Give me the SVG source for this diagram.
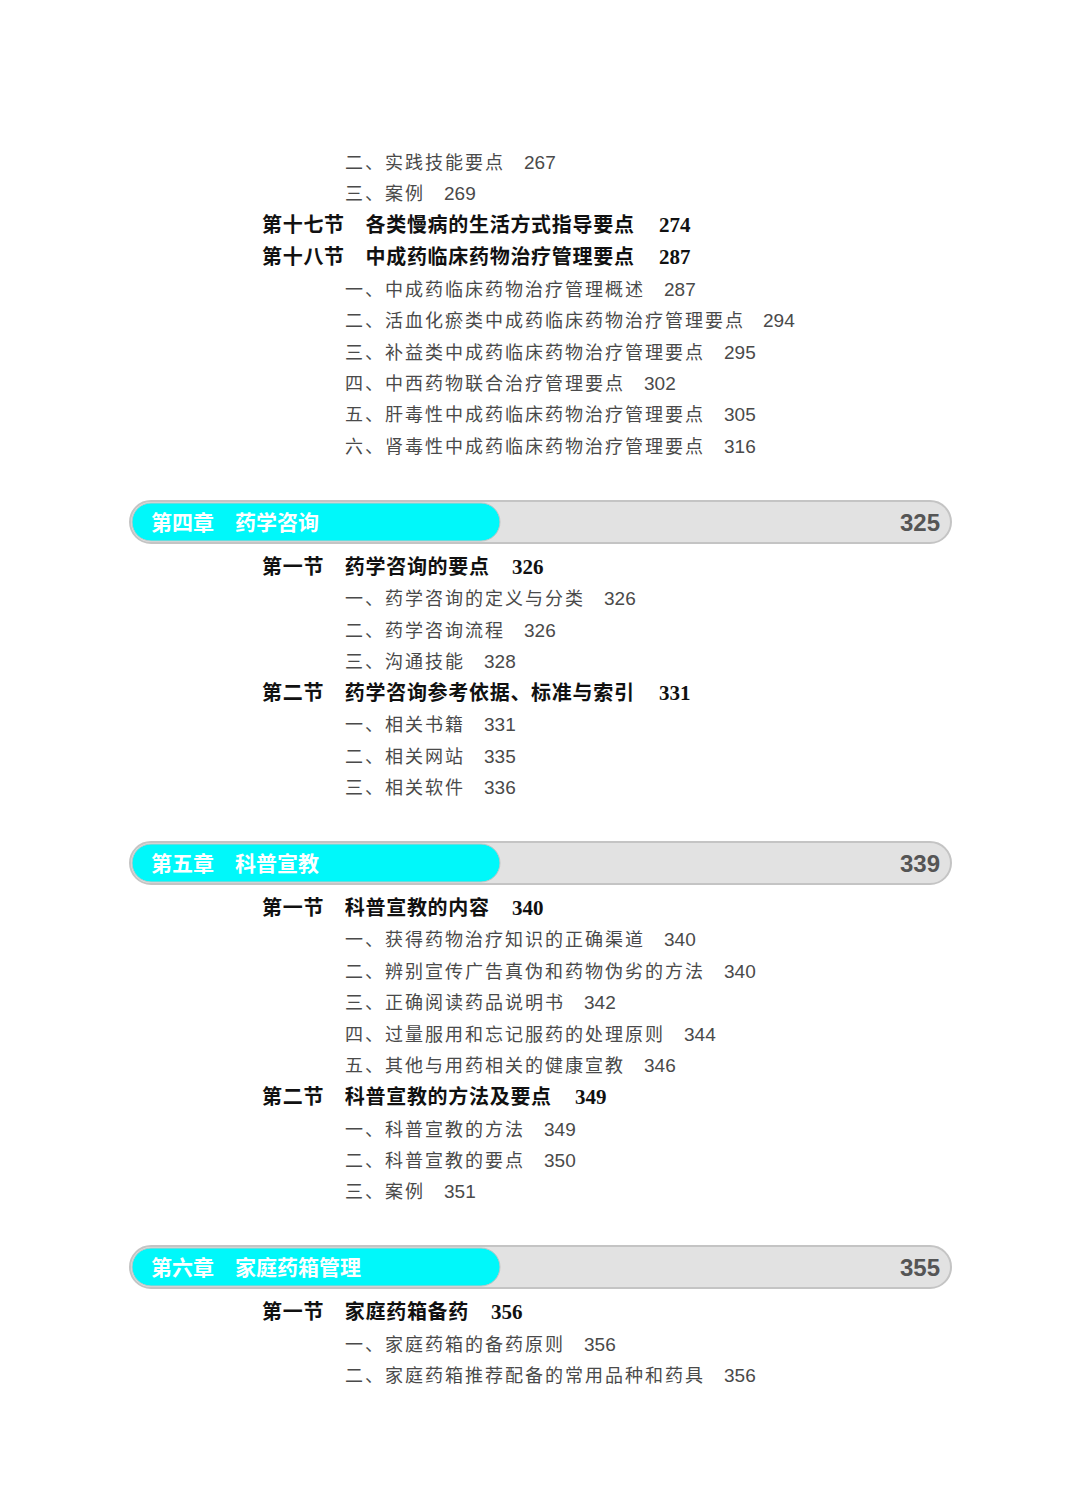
<svg xmlns="http://www.w3.org/2000/svg" width="1080" height="1504" viewBox="0 0 1080 1504">
<style>
.s{font-family:"Liberation Sans","Noto Sans CJK SC",sans-serif;font-size:18px;fill:#4a4a4a;letter-spacing:2px}
.n{font-family:"Liberation Sans",sans-serif;font-size:19px;fill:#4a4a4a}
.h{font-family:"Liberation Serif","Noto Sans CJK SC",serif;font-size:20px;font-weight:bold;fill:#111;letter-spacing:0.7px}
.hn{font-family:"Liberation Serif",serif;font-size:21px;font-weight:bold;fill:#111}
.bg{fill:#e2e2e2;stroke:#c4c4c4;stroke-width:2}
.cy{fill:#00f8fa;stroke:#c4c4c4;stroke-width:1}
.ct{font-family:"Noto Sans CJK SC",sans-serif;font-size:21px;font-weight:bold;fill:#fff}
.cn{font-family:"Liberation Sans",sans-serif;font-size:24px;font-weight:bold;fill:#555;text-anchor:end}
</style>
<rect width="1080" height="1504" fill="#fff"/>
<g id="top">
<text class="s" x="345" y="169">二、实践技能要点</text><text class="n" x="524" y="169">267</text>
<text class="s" x="345" y="200">三、案例</text><text class="n" x="444" y="200">269</text>
<text class="h" x="262" y="232">第十七节　各类慢病的生活方式指导要点</text><text class="hn" x="659" y="232">274</text>
<text class="h" x="262" y="264">第十八节　中成药临床药物治疗管理要点</text><text class="hn" x="659" y="264">287</text>
<text class="s" x="345" y="296">一、中成药临床药物治疗管理概述</text><text class="n" x="664" y="296">287</text>
<text class="s" x="345" y="327">二、活血化瘀类中成药临床药物治疗管理要点</text><text class="n" x="763" y="327">294</text>
<text class="s" x="345" y="359">三、补益类中成药临床药物治疗管理要点</text><text class="n" x="724" y="359">295</text>
<text class="s" x="345" y="390">四、中西药物联合治疗管理要点</text><text class="n" x="644" y="390">302</text>
<text class="s" x="345" y="421">五、肝毒性中成药临床药物治疗管理要点</text><text class="n" x="724" y="421">305</text>
<text class="s" x="345" y="453">六、肾毒性中成药临床药物治疗管理要点</text><text class="n" x="724" y="453">316</text>
</g>
<g id="ch4">
<rect class="bg" x="130" y="501" width="821" height="42" rx="21"/>
<rect class="cy" x="132" y="503" width="368" height="38" rx="19"/>
<text class="ct" x="151" y="530">第四章　药学咨询</text><text class="cn" x="940" y="531">325</text>
<text class="h" x="262" y="574">第一节　药学咨询的要点</text><text class="hn" x="512" y="574">326</text>
<text class="s" x="345" y="605">一、药学咨询的定义与分类</text><text class="n" x="604" y="605">326</text>
<text class="s" x="345" y="637">二、药学咨询流程</text><text class="n" x="524" y="637">326</text>
<text class="s" x="345" y="668">三、沟通技能</text><text class="n" x="484" y="668">328</text>
<text class="h" x="262" y="700">第二节　药学咨询参考依据、标准与索引</text><text class="hn" x="659" y="700">331</text>
<text class="s" x="345" y="731">一、相关书籍</text><text class="n" x="484" y="731">331</text>
<text class="s" x="345" y="763">二、相关网站</text><text class="n" x="484" y="763">335</text>
<text class="s" x="345" y="794">三、相关软件</text><text class="n" x="484" y="794">336</text>
</g>
<g id="ch5">
<rect class="bg" x="130" y="842" width="821" height="42" rx="21"/>
<rect class="cy" x="132" y="844" width="368" height="38" rx="19"/>
<text class="ct" x="151" y="871">第五章　科普宣教</text><text class="cn" x="940" y="872">339</text>
<text class="h" x="262" y="915">第一节　科普宣教的内容</text><text class="hn" x="512" y="915">340</text>
<text class="s" x="345" y="946">一、获得药物治疗知识的正确渠道</text><text class="n" x="664" y="946">340</text>
<text class="s" x="345" y="978">二、辨别宣传广告真伪和药物伪劣的方法</text><text class="n" x="724" y="978">340</text>
<text class="s" x="345" y="1009">三、正确阅读药品说明书</text><text class="n" x="584" y="1009">342</text>
<text class="s" x="345" y="1041">四、过量服用和忘记服药的处理原则</text><text class="n" x="684" y="1041">344</text>
<text class="s" x="345" y="1072">五、其他与用药相关的健康宣教</text><text class="n" x="644" y="1072">346</text>
<text class="h" x="262" y="1104">第二节　科普宣教的方法及要点</text><text class="hn" x="575" y="1104">349</text>
<text class="s" x="345" y="1136">一、科普宣教的方法</text><text class="n" x="544" y="1136">349</text>
<text class="s" x="345" y="1167">二、科普宣教的要点</text><text class="n" x="544" y="1167">350</text>
<text class="s" x="345" y="1198">三、案例</text><text class="n" x="444" y="1198">351</text>
</g>
<g id="ch6">
<rect class="bg" x="130" y="1246" width="821" height="42" rx="21"/>
<rect class="cy" x="132" y="1248" width="368" height="38" rx="19"/>
<text class="ct" x="151" y="1275">第六章　家庭药箱管理</text><text class="cn" x="940" y="1276">355</text>
<text class="h" x="262" y="1319">第一节　家庭药箱备药</text><text class="hn" x="491" y="1319">356</text>
<text class="s" x="345" y="1351">一、家庭药箱的备药原则</text><text class="n" x="584" y="1351">356</text>
<text class="s" x="345" y="1382">二、家庭药箱推荐配备的常用品种和药具</text><text class="n" x="724" y="1382">356</text>
</g>
</svg>
